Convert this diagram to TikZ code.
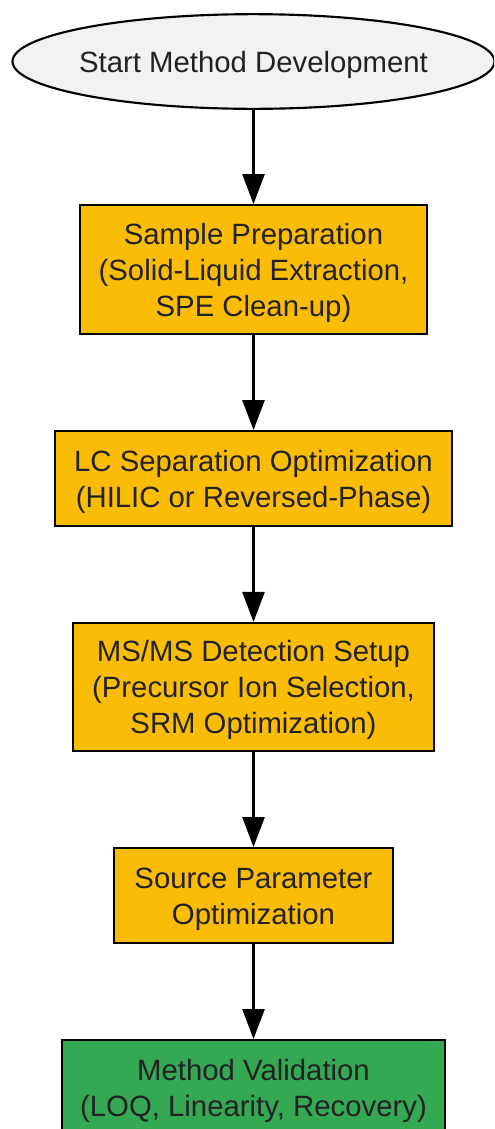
\documentclass[tikz,border=0pt]{standalone}
\usepackage{fontspec}
\setmainfont{Liberation Sans}
\usetikzlibrary{arrows.meta,shapes.geometric}
\definecolor{startgrey}{HTML}{F1F2F4}
\definecolor{stepyellow}{HTML}{FBBC05}
\definecolor{stepgreen}{HTML}{34A853}
\definecolor{txtgrey}{HTML}{222222}
\newcommand{\topstrut}{\rule{0pt}{0.95em}}
\tikzset{
	stepbox/.style={draw=black, line width=1.6pt, fill=stepyellow, align=center, inner sep=0pt,
		text=txtgrey, font=\fontsize{22pt}{27pt}\selectfont},
	flowarrow/.style={line width=1.9pt, -{Triangle[length=22.5pt, width=16.5pt]}}
}

\begin{document}
\begin{tikzpicture}[x=0.75pt, y=-0.75pt]
			%%%%% START %%%%%
			
			\useasboundingbox (0, 0) rectangle (494, 1129);
			\clip (0, 0) rectangle (494, 1129);
			
			\node[ellipse, draw=black, line width=1.6pt, fill=startgrey, inner xsep=-8pt, inner ysep=-4pt,
				minimum width=361.5pt, minimum height=71pt, text=txtgrey,
				font=\fontsize{22pt}{27pt}\selectfont] (start) at (253.5, 61.5) {\topstrut Start Method Development};
			
			\node[stepbox, minimum width=260pt, minimum height=96.5pt] (prep) at (253.5, 269.5)
				{\topstrut Sample Preparation\\(Solid-Liquid Extraction,\\SPE Clean-up)};
			\node[stepbox, minimum width=297.5pt, minimum height=71pt] (lcsep) at (253.5, 478.5)
				{\topstrut LC Separation Optimization\\(HILIC or Reversed-Phase)};
			\node[stepbox, minimum width=270.5pt, minimum height=96pt] (msms) at (253.5, 687)
				{\topstrut MS/MS Detection Setup\\(Precursor Ion Selection,\\SRM Optimization)};
			\node[stepbox, minimum width=209pt, minimum height=71pt] (source) at (253.5, 895.5)
				{\topstrut Source Parameter\\Optimization};
			\node[stepbox, fill=stepgreen, minimum width=287pt, minimum height=71pt] (valid) at (253.5, 1087.5)
				{\topstrut Method Validation\\(LOQ, Linearity, Recovery)};
			
			\draw[flowarrow] (start) -- (prep);
			\draw[flowarrow] (prep) -- (lcsep);
			\draw[flowarrow] (lcsep) -- (msms);
			\draw[flowarrow] (msms) -- (source);
			\draw[flowarrow] (source) -- (valid);
			
			%%%%% END %%%%%
		\end{tikzpicture}
\end{document}
